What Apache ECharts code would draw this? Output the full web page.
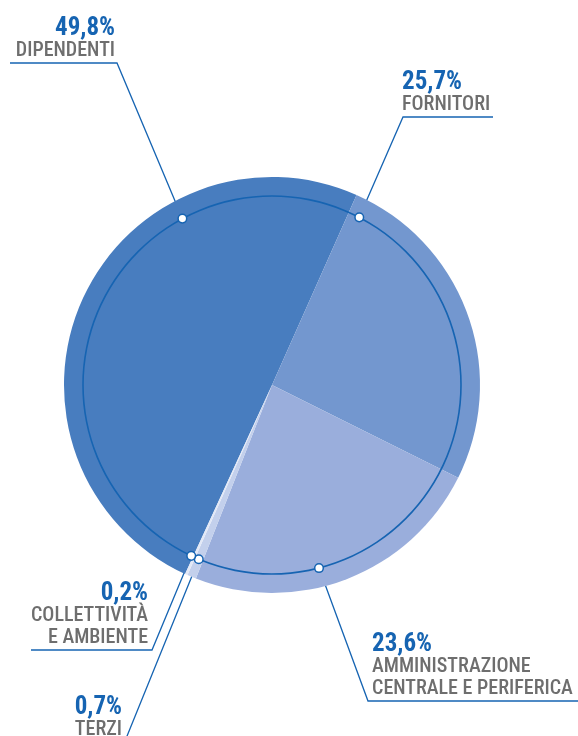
<!DOCTYPE html>
<html>
<head>
<meta charset="utf-8">
<script src="https://cdn.jsdelivr.net/npm/echarts@6/dist/echarts.min.js"></script>
<style>
  html, body { margin: 0; padding: 0; background: #ffffff; }
  #chart { width: 578px; height: 736px; }
</style>
</head>
<body>
<div id="chart"></div>
<script>
// Distribution of value added (percent shares), clockwise from Dipendenti
const categories = ['DIPENDENTI', 'FORNITORI', 'AMMINISTRAZIONE\nCENTRALE E PERIFERICA', 'TERZI', 'COLLETTIVITÀ\nE AMBIENTE'];
const shares = [49.8, 25.7, 23.6, 0.7, 0.2];
const sliceColors = ['#487dbf', '#7397cf', '#9aaedc', '#c3d0ec', '#e2e8f6'];

// geometry
const CX = 272, CY = 385, R = 208, R_LINE = 189;
const START_CLOCK = 204.7;           // Dipendenti begins here, degrees clockwise from 12 o'clock
const LINE_BLUE = '#1664b2';
const FONT = "'Roboto Condensed', 'Liberation Sans Narrow', 'DejaVu Sans Condensed', Roboto, sans-serif";

// callout layout: anchor on the inner ring, elbow, underline end, text anchor
const callouts = [
  { angle: 331.7, elbow: [117, 63],  end: [10, 63],   x: 115, y: 62,  align: 'right' },
  { angle: 27.5,  elbow: [403, 117], end: [493, 117], x: 402, y: 116, align: 'left'  },
  { angle: 165.6, elbow: [368, 701], end: [578, 701], x: 372, y: 700, align: 'left'  },
  { angle: 202.8, elbow: [123, 746], end: [0, 746],   x: 122, y: 741, align: 'right' },
  { angle: 205.3, elbow: [152, 650], end: [31, 650],  x: 148, y: 649, align: 'right' }
];

function ringPoint(deg) {
  const a = deg * Math.PI / 180;
  return [CX + R_LINE * Math.sin(a), CY - R_LINE * Math.cos(a)];
}

const pieData = categories.map((name, i) => ({
  name: name,
  value: shares[i],
  itemStyle: { color: sliceColors[i] }
}));

const chart = echarts.init(document.getElementById('chart'), null, { renderer: 'canvas' });

chart.setOption({
  animation: false,
  backgroundColor: '#ffffff',
  series: [
    {
      type: 'pie',
      center: [CX, CY],
      radius: R,
      clockwise: true,
      startAngle: ((90 - START_CLOCK) % 360 + 360) % 360,
      avoidLabelOverlap: false,
      silent: true,
      emphasis: { disabled: true },
      data: pieData,
      itemStyle: { borderWidth: 0 },
      label: {
        show: true,
        position: 'outside',
        formatter: p => {
          const pct = p.value.toFixed(1).replace('.', ',') + '%';
          return ['{p|' + pct + '}'].concat(p.name.split('\n').map(s => '{n|' + s + '}')).join('\n');
        },
        rich: {
          p: { fontFamily: FONT, fontSize: 25, fontWeight: 'bold', color: LINE_BLUE, lineHeight: 23 },
          n: { fontFamily: FONT, fontSize: 20, fontWeight: 500, color: '#6e6e6e', lineHeight: 22 }
        }
      },
      labelLine: {
        show: true,
        length: 10,
        length2: 10,
        smooth: false,
        lineStyle: { color: LINE_BLUE, width: 1.3 }
      },
      labelLayout: params => {
        const c = callouts[params.dataIndex];
        return {
          x: c.x,
          y: c.y,
          align: c.align,
          verticalAlign: 'bottom',
          labelLinePoints: [ringPoint(c.angle), c.elbow, c.end]
        };
      }
    },
    {
      // thin ring drawn inside the pie
      type: 'pie',
      center: [CX, CY],
      radius: [R_LINE - 0.8, R_LINE + 0.8],
      silent: true,
      emphasis: { disabled: true },
      label: { show: false },
      labelLine: { show: false },
      itemStyle: { color: LINE_BLUE, borderWidth: 0 },
      data: [{ value: 1, name: 'ring' }]
    }
  ],
  graphic: callouts.map(c => {
    const p = ringPoint(c.angle);
    return {
      type: 'circle',
      z: 100,
      shape: { cx: p[0], cy: p[1], r: 4.3 },
      style: { fill: '#ffffff', stroke: LINE_BLUE, lineWidth: 1.5 }
    };
  })
});
</script>
</body>
</html>
